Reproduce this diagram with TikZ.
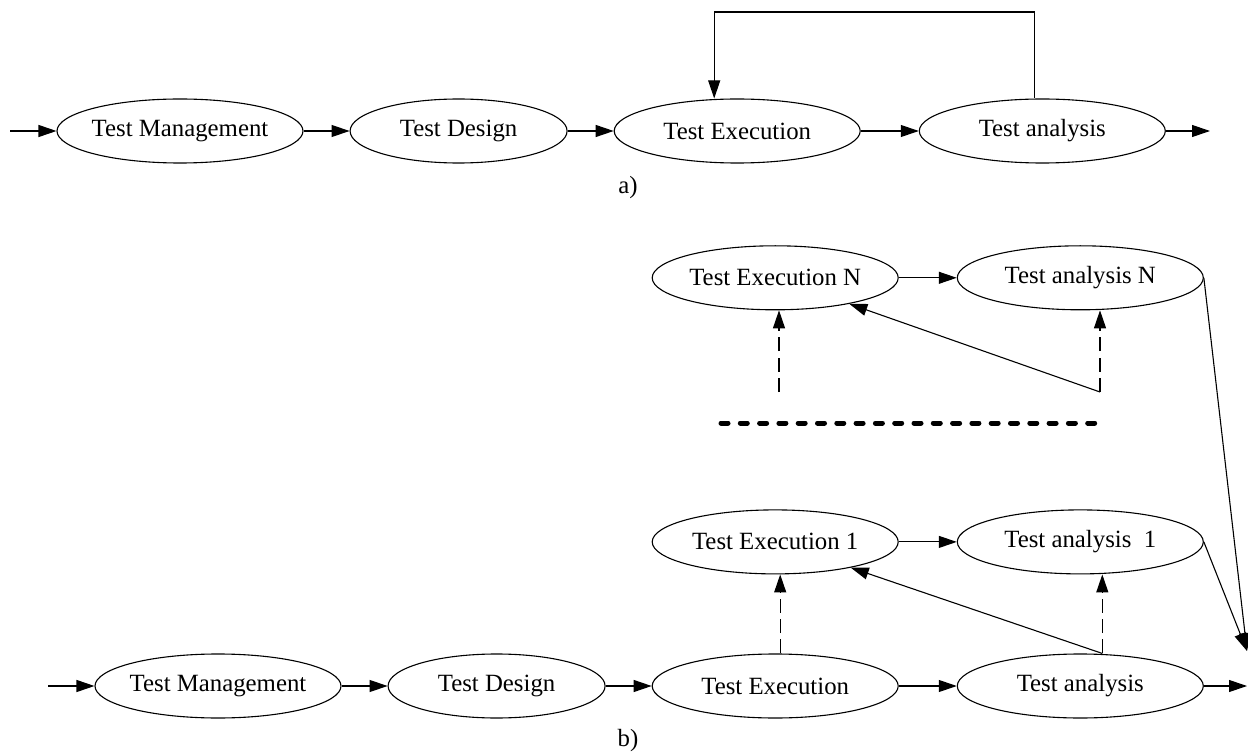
\documentclass[tikz,border=0pt]{standalone}
\usepackage{fontspec}
\setmainfont{Liberation Serif}
\usetikzlibrary{arrows.meta, positioning, shapes.geometric}
\definecolor{edge}{HTML}{000000}
\newcommand{\nfont}{\fontsize{12.4pt}{14pt}\selectfont}
\tikzset{
  n/.style={draw=edge, ellipse, line width=0.55pt, minimum width=123pt, minimum height=32pt, inner ysep=0pt, inner xsep=-2.5pt, font=\nfont},
  nd/.style={n, minimum width=108.5pt},
  a/.style={-{Triangle[length=9pt, width=6pt]}, draw=edge, line width=0.55pt},
  ad/.style={a, dash pattern=on 7pt off 3.2pt},
  brk/.style={draw=edge, line width=2.5pt, line cap=round, dash pattern=on 3.5pt off 6.15pt},
  lbl/.style={font=\nfont, inner sep=0pt},
}

\begin{document}
\begin{tikzpicture}[x=0.5pt, y=-0.5pt, node distance=23pt]
\useasboundingbox (0,0) rectangle (1248,754);

\node[n] (tmA) at (180,131) {Test Management};
\node[nd, right=of tmA] (tdA) {Test Design};
\node[n, right=of tdA] (teA) {Test Execution};
\node[n, right=29pt of teA] (taA) {Test analysis};
\node[lbl] (capA) at (628,188) {a)};
\coordinate (inA) at (10,131);
\coordinate (outA) at (1210,131);
\coordinate (topA) at (0,12);
\coordinate (upA) at ([xshift=-4pt]taA.north);
\coordinate (dnA) at ([xshift=-11.5pt]teA.north);

\node[n] (tmB) at (218,686) {Test Management};
\node[nd, right=of tmB] (tdB) {Test Design};
\node[n, right=of tdB] (teB) {Test Execution};
\node[n, right=29pt of teB] (taB) {Test analysis};
\node[n, above=39.5pt of teB] (te1) {Test Execution 1};
\node[n, right=29pt of te1] (ta1) {Test analysis\ \ 1};
\node[n, above=99.5pt of te1] (teN) {Test Execution N};
\node[n, right=29pt of teN] (taN) {Test analysis N};
\node[lbl] (capB) at (628,741) {b)};
\coordinate (inB) at (48,686);
\coordinate (outB) at (1247,686);
\coordinate (dL) at (779,392);
\coordinate (dR) at (1100,392);
\coordinate (brkL) at (721,423);
\coordinate (brkR) at (1095,423);
\coordinate (join) at (1247,651);

\draw[a] (inA) -- (tmA);
\draw[a] (tmA) -- (tdA);
\draw[a] (tdA) -- (teA);
\draw[a] (teA) -- (taA);
\draw[a] (taA) -- (outA);
\draw[a] (upA) |- (dnA |- topA) -- (dnA);

\draw[a] (inB) -- (tmB);
\draw[a] (tmB) -- (tdB);
\draw[a] (tdB) -- (teB);
\draw[a] (teB) -- (taB);
\draw[a] (taB) -- (outB);
\draw[a] (te1) -- (ta1);
\draw[a] (teN) -- (taN);
\draw[ad] ([xshift=2.5pt]teB.north) -- ([xshift=2.5pt]te1.south);
\draw[ad] ([xshift=11pt]taB.north) -- ([xshift=11pt]ta1.south);
\draw[a] ([xshift=11pt]taB.north) -- (te1);
\draw[ad] (dL) -- (dL |- teN.south);
\draw[ad] (dR) -- (dR |- taN.south);
\draw[a] (dR) -- (teN);
\draw[brk] (brkL) -- (brkR);
\draw[a] (taN.east) -- (join);
\draw[a] (ta1.east) -- (join);
\end{tikzpicture}
\end{document}
